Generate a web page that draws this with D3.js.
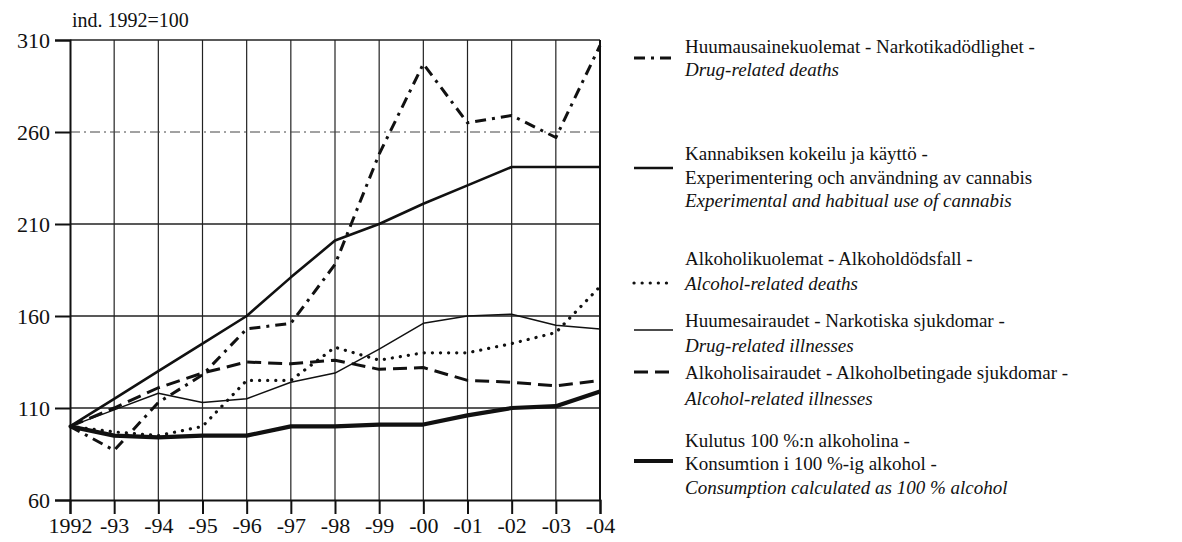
<!DOCTYPE html>
<html><head><meta charset="utf-8">
<script src="https://cdn.jsdelivr.net/npm/d3@7"></script>
<style>body{margin:0;background:#fff}svg{display:block}</style>
</head><body><svg id="c" width="1182" height="542" font-family="Liberation Serif" style="font-family:'Liberation Serif'"></svg>
<script>
const years = ["1992","-93","-94","-95","-96","-97","-98","-99","-00","-01","-02","-03","-04"];
const yTicks = [60,110,160,210,260,310];
const drugDeaths      = [100, 87, 113, 128, 153, 156, 188, 248, 297, 265, 269, 257, 307];
const cannabis        = [100, 115, 130, 145, 160, 181, 201, 210, 221, 231, 241, 241, 241];
const alcoholDeaths   = [100, 97, 95, 100, 125, 125, 143, 136, 140, 140, 145, 151, 176];
const drugIllness     = [100, 109, 118, 113, 115, 124, 129, 142, 156, 160, 161, 155, 153];
const alcoholIllness  = [100, 110, 121, 129, 135, 134, 136, 131, 132, 125, 124, 122, 125];
const consumption     = [100, 95, 94, 95, 95, 100, 100, 101, 101, 106, 110, 111, 119];
const legendLines = [
  ["Huumausainekuolemat - Narkotikadödlighet -", "*Drug-related deaths"],
  ["Kannabiksen kokeilu ja käyttö -", "Experimentering och användning av cannabis", "*Experimental and habitual use of cannabis"],
  ["Alkoholikuolemat - Alkoholdödsfall -", "*Alcohol-related deaths"],
  ["Huumesairaudet - Narkotiska sjukdomar -", "*Drug-related illnesses"],
  ["Alkoholisairaudet - Alkoholbetingade sjukdomar -", "*Alcohol-related illnesses"],
  ["Kulutus 100 %:n alkoholina -", "Konsumtion i 100 %-ig alkohol -", "*Consumption calculated as 100 % alcohol"]
];

const FONT = "Liberation Serif";
const svg = d3.select("#c");
const x = d3.scalePoint().domain(years).range([70, 600]);
const y = d3.scaleLinear().domain([60, 310]).range([500, 40]);

function serif(sel){ return sel.attr("font-family", FONT).style("font-family", "'Liberation Serif', 'Times New Roman', serif"); }

// grid
const g = svg.append("g");
g.selectAll(".vg").data(years.slice(1)).join("line")
  .attr("x1", d => x(d)).attr("x2", d => x(d)).attr("y1", y(310)).attr("y2", y(60))
  .attr("stroke", "#222").attr("stroke-width", 1.2);
g.selectAll(".hg").data([110,160,210,310]).join("line")
  .attr("x1", x("1992")).attr("x2", x("-04")).attr("y1", d => y(d)).attr("y2", d => y(d))
  .attr("stroke", "#222").attr("stroke-width", d => d===310 ? 1.6 : 1.4);
g.append("line").attr("x1", x("1992")).attr("x2", x("-04")).attr("y1", y(260)).attr("y2", y(260))
  .attr("stroke", "#444").attr("stroke-width", 1).attr("stroke-dasharray", "10 4 2 4");

// axes
const yAxis = d3.axisLeft(y).tickValues(yTicks).tickSize(15).tickPadding(5).tickFormat(d3.format("d"));
const ya = svg.append("g").attr("transform", `translate(${x("1992")},0)`).call(yAxis);
serif(ya);
ya.select(".domain").attr("stroke", "#111").attr("stroke-width", 2);
ya.selectAll(".tick line").attr("stroke", "#111").attr("stroke-width", 2);
serif(ya.selectAll("text")).attr("font-size", 22).attr("fill", "#111");

const xAxis = d3.axisBottom(x).tickSize(14).tickPadding(3);
const xa = svg.append("g").attr("transform", `translate(0,${y(60)})`).call(xAxis);
serif(xa);
xa.select(".domain").attr("stroke", "#111").attr("stroke-width", 2);
xa.selectAll(".tick line").attr("stroke", "#111").attr("stroke-width", 2);
serif(xa.selectAll("text")).attr("font-size", 22).attr("fill", "#111");

// right border
svg.append("line").attr("x1", x("-04")).attr("x2", x("-04")).attr("y1", y(310)).attr("y2", y(60))
  .attr("stroke", "#111").attr("stroke-width", 2);

serif(svg.append("text")).attr("x", 72).attr("y", 27).attr("font-size", 20)
  .attr("fill", "#111").text("ind. 1992=100");

// series
const series = [
  {v: drugDeaths, w: 3, dash: "11 6 3 6", cap: "butt"},
  {v: cannabis, w: 2.6, dash: null, cap: "butt"},
  {v: alcoholDeaths, w: 3.2, dash: "0.1 8", cap: "round"},
  {v: drugIllness, w: 1.5, dash: null, cap: "butt"},
  {v: alcoholIllness, w: 3, dash: "14 7", cap: "butt"},
  {v: consumption, w: 4.2, dash: null, cap: "butt"}
];
const line = d3.line().x((d,i) => x(years[i])).y(d => y(d));
series.forEach(s => {
  svg.append("path").attr("d", line(s.v)).attr("fill", "none").attr("stroke", "#111")
    .attr("stroke-width", s.w).attr("stroke-dasharray", s.dash).attr("stroke-linecap", s.cap)
    .attr("stroke-linejoin", "round");
});

// legend
const lx = 685, fs = 19;
const legendY = [[46, 69], [153, 177, 200], [258, 283], [320, 345], [372, 398], [440, 463, 487]];
const symY = [58, 168, 283, 330, 372, 461];
legendLines.forEach((lines, i) => {
  lines.forEach((t, j) => {
    const it = t.startsWith("*");
    const tx = serif(svg.append("text")).attr("x", lx).attr("y", legendY[i][j]).attr("dy", "0.35em")
      .attr("fill", "#111").attr("font-size", fs).text(it ? t.slice(1) : t);
    if (it) tx.attr("font-style", "italic");
  });
  const s = series[i];
  svg.append("line").attr("x1", 634).attr("x2", 673).attr("y1", symY[i]).attr("y2", symY[i])
    .attr("stroke", "#111").attr("stroke-width", s.w)
    .attr("stroke-dasharray", s.dash).attr("stroke-linecap", s.cap);
});
</script></body></html>
